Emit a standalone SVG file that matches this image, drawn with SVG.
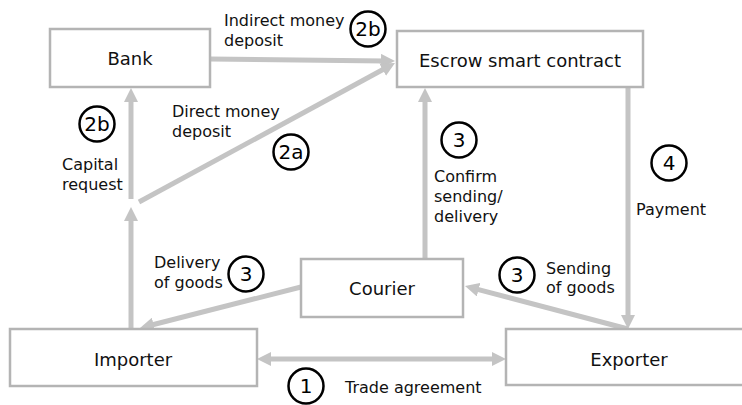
<svg xmlns="http://www.w3.org/2000/svg" width="742" height="405" viewBox="0 0 742 405">
  <style>
    .box { fill: #ffffff; stroke: #b4b4b4; stroke-width: 2.5; }
    .name { font-family: "DejaVu Sans", Verdana, sans-serif; font-size: 18px; fill: #111111; text-anchor: middle; }
    .lbl { font-family: "DejaVu Sans", Verdana, sans-serif; font-size: 16px; fill: #111111; }
    .link { fill: none; stroke: #c4c4c4; stroke-width: 5; }
    .step circle { fill: #ffffff; stroke: #000000; stroke-width: 2.5; }
    .step text { font-family: "DejaVu Sans", Verdana, sans-serif; font-size: 20px; fill: #000000; text-anchor: middle; }
  </style>
  <defs>
    <marker id="head" viewBox="0 0 14 14" refX="4" refY="7" markerWidth="14" markerHeight="14" markerUnits="userSpaceOnUse" orient="auto-start-reverse">
      <path d="M0,0 L14,7 L0,14 z" fill="#c4c4c4"/>
    </marker>
  </defs>

  <rect width="742" height="405" fill="#ffffff"/>

  <!-- connectors -->
  <g id="connectors">
    <line class="link" x1="210" y1="59" x2="385" y2="60.9" marker-end="url(#head)"/>
    <line class="link" x1="139" y1="202" x2="386.2" y2="67.8" marker-end="url(#head)"/>
    <line class="link" x1="131" y1="199" x2="131" y2="98" marker-end="url(#head)"/>
    <line class="link" x1="131" y1="329" x2="131" y2="217" marker-end="url(#head)"/>
    <line class="link" x1="425" y1="259" x2="425" y2="98" marker-end="url(#head)"/>
    <line class="link" x1="628" y1="87" x2="628" y2="319" marker-end="url(#head)"/>
    <line class="link" x1="301" y1="287" x2="149.7" y2="325.5" marker-end="url(#head)"/>
    <line class="link" x1="628" y1="329" x2="474.7" y2="288.6" marker-end="url(#head)"/>
    <line class="link" x1="267" y1="359" x2="496" y2="359" marker-start="url(#head)" marker-end="url(#head)"/>
  </g>

  <!-- nodes -->
  <g id="bank">
    <rect class="box" x="50" y="29" width="160" height="58"/>
    <text class="name" x="130" y="65">Bank</text>
  </g>
  <g id="escrow">
    <rect class="box" x="397" y="31" width="246" height="56"/>
    <text class="name" x="520" y="67">Escrow smart contract</text>
  </g>
  <g id="courier">
    <rect class="box" x="301" y="259" width="162" height="58"/>
    <text class="name" x="382" y="295">Courier</text>
  </g>
  <g id="importer">
    <rect class="box" x="10" y="329" width="247" height="57"/>
    <text class="name" x="133" y="366">Importer</text>
  </g>
  <g id="exporter">
    <rect class="box" x="506" y="329" width="250" height="56"/>
    <text class="name" x="629" y="366">Exporter</text>
  </g>

  <!-- connector labels -->
  <g id="labels">
    <text class="lbl" x="224" y="26">Indirect money</text>
    <text class="lbl" x="224" y="46">deposit</text>
    <text class="lbl" x="172" y="117">Direct money</text>
    <text class="lbl" x="172" y="137">deposit</text>
    <text class="lbl" x="62" y="170">Capital</text>
    <text class="lbl" x="62" y="190">request</text>
    <text class="lbl" x="434" y="182">Confirm</text>
    <text class="lbl" x="434" y="202">sending/</text>
    <text class="lbl" x="434" y="222">delivery</text>
    <text class="lbl" x="636" y="215">Payment</text>
    <text class="lbl" x="546" y="274">Sending</text>
    <text class="lbl" x="546" y="293">of goods</text>
    <text class="lbl" x="154" y="268">Delivery</text>
    <text class="lbl" x="154" y="288">of goods</text>
    <text class="lbl" x="345" y="393">Trade agreement</text>
  </g>

  <!-- step markers -->
  <g id="steps" class="step">
    <g id="step-2b-top"><circle cx="368" cy="29" r="17.5"/><text x="368" y="36">2b</text></g>
    <g id="step-2b-left"><circle cx="97" cy="124" r="17.5"/><text x="97" y="131">2b</text></g>
    <g id="step-2a"><circle cx="291" cy="152" r="17.5"/><text x="291" y="159">2a</text></g>
    <g id="step-3-confirm"><circle cx="459" cy="140" r="17.5"/><text x="459" y="147">3</text></g>
    <g id="step-4"><circle cx="669" cy="163" r="17.5"/><text x="669" y="170">4</text></g>
    <g id="step-3-delivery"><circle cx="246" cy="274" r="17.5"/><text x="246" y="281">3</text></g>
    <g id="step-3-sending"><circle cx="517" cy="275" r="17.5"/><text x="517" y="282">3</text></g>
    <g id="step-1"><circle cx="306" cy="386" r="17.5"/><text x="306" y="393">1</text></g>
  </g>
</svg>
